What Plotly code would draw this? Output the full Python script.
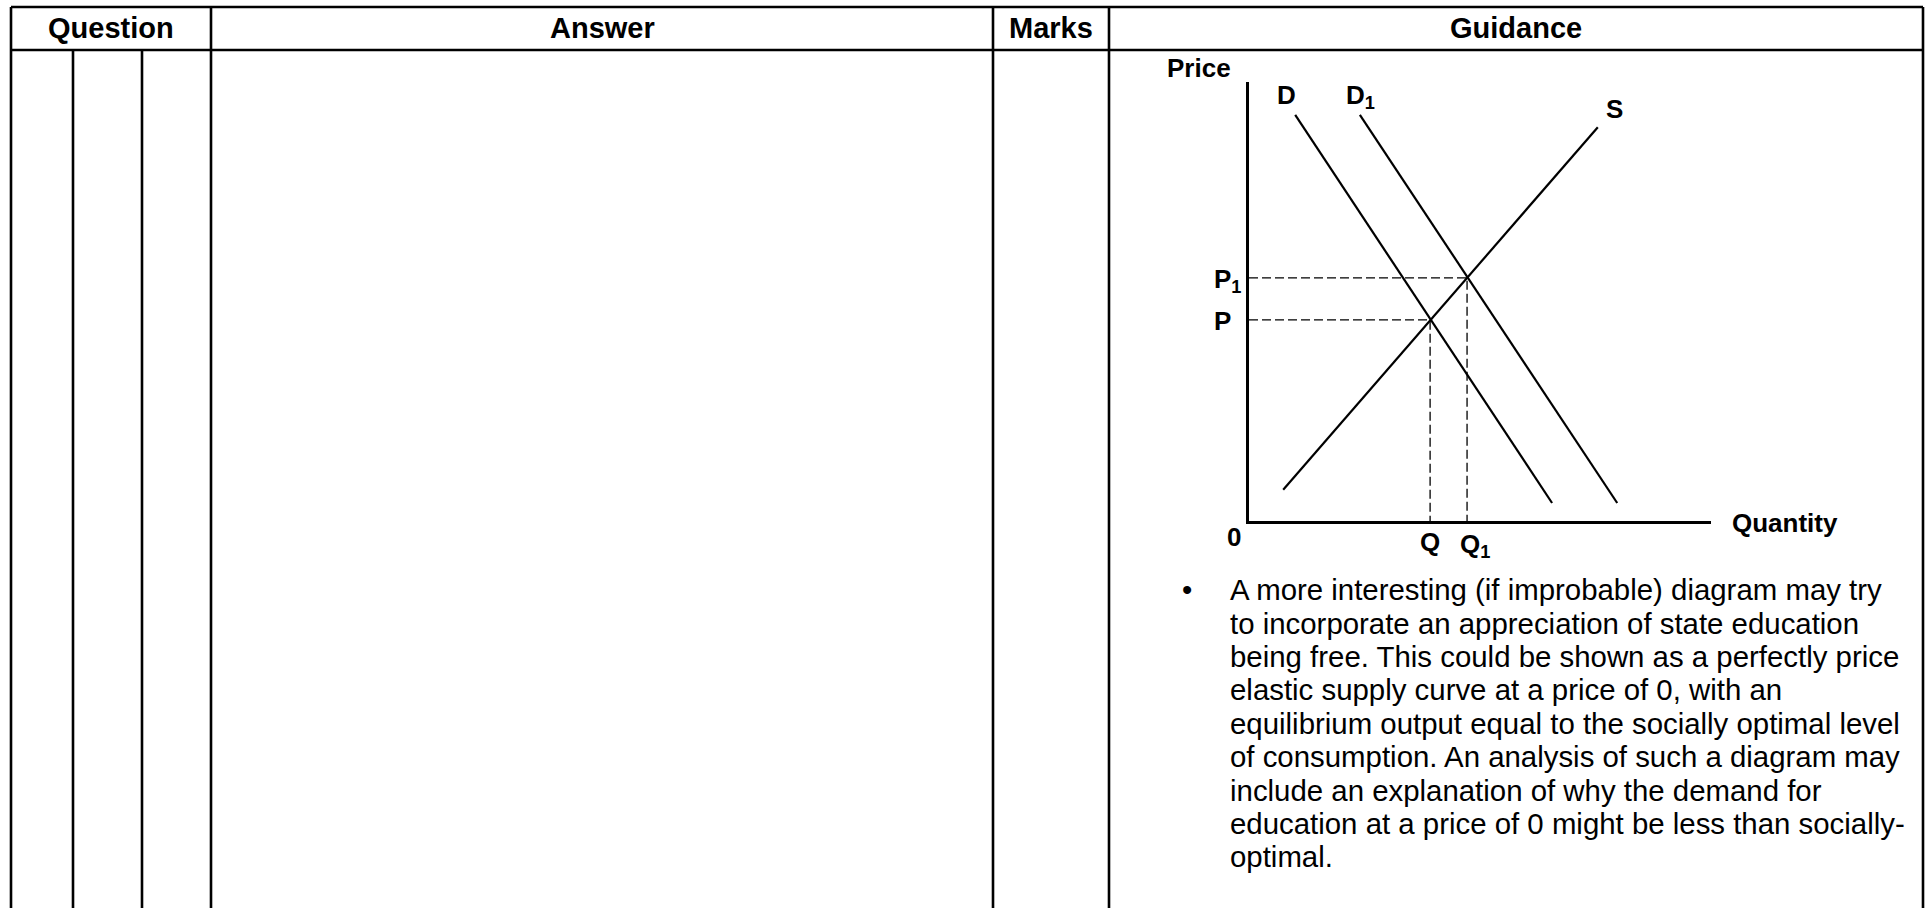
import plotly.graph_objects as go

W, H = 1930, 908

# table header
headers = ["Question", "Answer", "Marks", "Guidance"]

# diagram (quantity, price), axes 0..10
d_q = [1.0, 6.56]
d_p = [9.25, 0.41]
d1_q = [2.40, 7.97]
d1_p = [9.25, 0.41]
s_q = [0.74, 7.55]
s_p = [0.71, 8.97]
eq_q = [3.92, 4.72]   # Q, Q1
eq_p = [4.58, 5.54]   # P, P1

guidance_lines = [
    "A more interesting (if improbable) diagram may try",
    "to incorporate an appreciation of state education",
    "being free. This could be shown as a perfectly price",
    "elastic supply curve at a price of 0, with an",
    "equilibrium output equal to the socially optimal level",
    "of consumption. An analysis of such a diagram may",
    "include an explanation of why the demand for",
    "education at a price of 0 might be less than socially-",
    "optimal.",
]

FONT = "Liberation Sans, Arial, sans-serif"


def px(x):
    return x / W


def py(y):
    return 1 - y / H


fig = go.Figure()

# curves
fig.add_trace(go.Scatter(x=d_q, y=d_p, mode="lines", line=dict(color="black", width=2.2)))
fig.add_trace(go.Scatter(x=d1_q, y=d1_p, mode="lines", line=dict(color="black", width=2.2)))
fig.add_trace(go.Scatter(x=s_q, y=s_p, mode="lines", line=dict(color="black", width=2.2)))

# dashed guides from the equilibria to the axes
for q, p in zip(eq_q, eq_p):
    fig.add_trace(go.Scatter(x=[0, q, q], y=[p, p, 0], mode="lines",
                             line=dict(color="black", width=1.3, dash="9px,4px")))

# table grid
col_top = [11, 211, 993, 1109, 1923]
col_sub = [73, 142]
lw = 2.6
shapes = []
for y in [7, 50]:
    shapes.append(dict(type="line", xref="paper", yref="paper",
                       x0=px(11), x1=px(1923), y0=py(y), y1=py(y),
                       line=dict(color="black", width=lw)))
for x in col_top:
    shapes.append(dict(type="line", xref="paper", yref="paper",
                       x0=px(x), x1=px(x), y0=py(7), y1=py(H + 5),
                       line=dict(color="black", width=lw)))
for x in col_sub:
    shapes.append(dict(type="line", xref="paper", yref="paper",
                       x0=px(x), x1=px(x), y0=py(50), y1=py(H + 5),
                       line=dict(color="black", width=lw)))

ann = []
head_x = [111, 602, 1051, 1516]
for txt, x in zip(headers, head_x):
    ann.append(dict(text="<b>%s</b>" % txt, x=px(x), y=py(28), xref="paper", yref="paper",
                    xanchor="center", yanchor="middle", showarrow=False,
                    font=dict(family=FONT, size=29, color="black")))

lab = dict(family=FONT, size=26, color="black")


def label(text, x, y, xanchor="center", xshift=0, yshift=0):
    ann.append(dict(text="<b>%s</b>" % text, x=x, y=y, xref="x", yref="y",
                    xanchor=xanchor, yanchor="middle", xshift=xshift, yshift=yshift,
                    showarrow=False, font=lab))


label("D", d_q[0], d_p[0], xshift=-9, yshift=20)
label("D<sub>1</sub>", d1_q[0], d1_p[0], xshift=1, yshift=18)
label("S", s_q[1], s_p[1], xshift=17, yshift=18)
label("Price", 0, 10, xshift=-50, yshift=14)
label("Quantity", 10, 0, xanchor="left", xshift=19, yshift=-2)
label("0", 0, 0, xshift=-15, yshift=-16)
label("P", 0, eq_p[0], xanchor="left", xshift=-37, yshift=-1)
label("P<sub>1</sub>", 0, eq_p[1], xanchor="left", xshift=-37, yshift=-3)
label("Q", eq_q[0], 0, yshift=-21)
label("Q<sub>1</sub>", eq_q[1], 0, xanchor="left", xshift=-9, yshift=-24)

# guidance text
fs = 29.4
base0, step = 600, 33.4
ann.append(dict(text="•", x=px(1187), y=py(base0 - 0.35 * fs), xref="paper", yref="paper",
                xanchor="center", yanchor="middle", showarrow=False,
                font=dict(family=FONT, size=fs, color="black")))
for i, line in enumerate(guidance_lines):
    ann.append(dict(text=line, x=px(1228), y=py(base0 + i * step - 0.35 * fs),
                    xref="paper", yref="paper", xanchor="left", yanchor="middle",
                    showarrow=False, font=dict(family=FONT, size=fs, color="black")))

fig.update_layout(
    width=W, height=H,
    margin=dict(l=0, r=0, t=0, b=0),
    paper_bgcolor="white", plot_bgcolor="white",
    showlegend=False,
    shapes=shapes,
    annotations=ann,
    xaxis=dict(domain=[px(1249), px(1711)], range=[0, 10], showline=True, linecolor="black",
               linewidth=2.5, showgrid=False, zeroline=False, showticklabels=False, ticks=""),
    yaxis=dict(domain=[py(521), py(82)], range=[0, 10], showline=True, linecolor="black",
               linewidth=2.5, showgrid=False, zeroline=False, showticklabels=False, ticks=""),
)

# page body has an 8px default margin, drop it so the figure fills the window
fig.write_html("out.html", config={"displayModeBar": False},
               post_script="document.body.style.margin='0px';")
